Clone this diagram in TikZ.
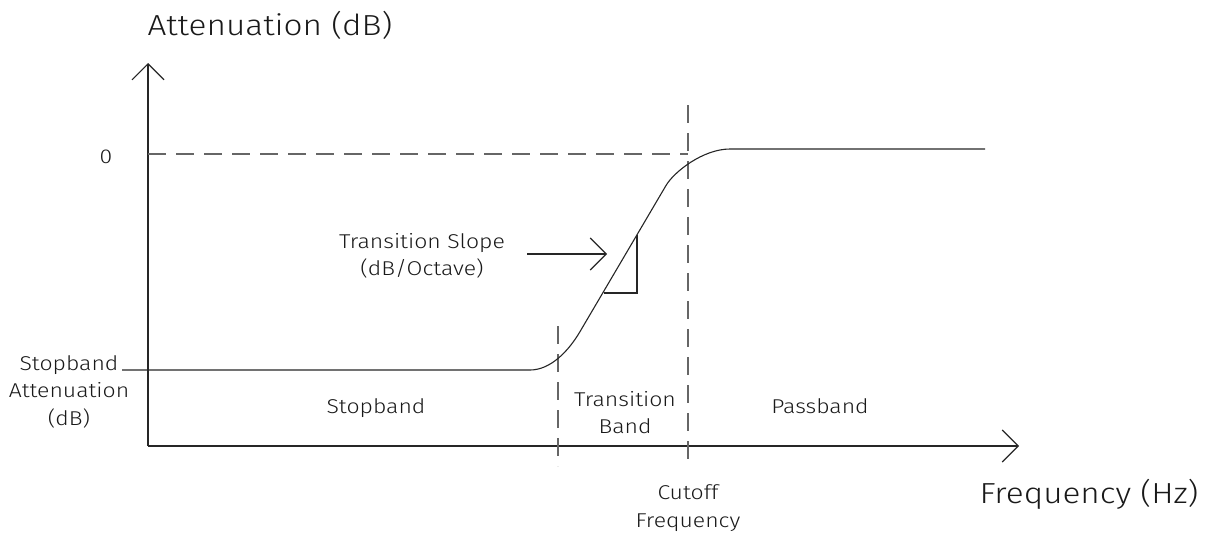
\documentclass[tikz,border=0pt]{standalone}
\usepackage{fontspec}
\setmainfont{Fira Sans}[UprightFont={* Light}, FakeStretch=1.15]
\usetikzlibrary{arrows.meta}

\begin{document}
\begin{tikzpicture}[x=1pt, y=-1pt,
  axis/.style={line width=1.1pt, black!85},
  guide/.style={line width=1.2pt, black!60, dash pattern=on 18pt off 10pt},
  response/.style={line width=1.1pt, black!85},
  barb/.style={-{Straight Barb[length=16pt, width=32pt]}},
  lbl/.style={font=\fontsize{20}{27.5}\selectfont, inner sep=0pt, align=center, text=black!90},
  ttl/.style={font=\fontsize{29}{34}\selectfont, inner sep=0pt, text=black!90}]
\useasboundingbox (0,0) rectangle (1212,533);

% axes
\coordinate (O) at (148,446);
\coordinate (ytip) at (148,63);
\coordinate (xtip) at (1019,446);
\draw[axis, barb] (O) -- (ytip);
\draw[axis, barb] (O) -- (xtip);

% reference lines: 0 dB level, transition start, cutoff
\coordinate (zl) at (148,154);
\coordinate (zr) at (688,154);
\coordinate (cutT) at (688,105);
\coordinate (cutB) at (688,466);
\coordinate (trT) at (558,326);
\coordinate (trB) at (558,466);
\draw[guide] (zl) -- (zr);
\draw[guide] (cutT) -- (cutB);
\draw[guide] (trT) -- (trB);

% filter response
\coordinate (stopL) at (122,370);
\coordinate (passR) at (985,149);
\draw[response] (stopL) -- (530,370)
  .. controls (550,370) and (568,352) .. (580,331.6)
  -- (666,185.5)
  .. controls (674,171.9) and (703,149) .. (730,149)
  -- (passR);

% slope triangle
\coordinate (triA) at (637,235);
\coordinate (triB) at (637,293);
\coordinate (triC) at (604,293);
\draw[response] (triA) -- (triB) -- (triC);

% slope pointer
\coordinate (slA) at (527,254);
\coordinate (slB) at (607,254);
\draw[response, barb] (slA) -- (slB);

% labels
\node[ttl, anchor=base] (ylab) at (270,35) {Attenuation (dB)};
\node[ttl, anchor=base] (xlab) at (1089,503) {Frequency (Hz)};
\node[lbl, anchor=base] (zero) at (106,163) {0};
\node[lbl] (sba) at (69,391.5) {Stopband\\Attenuation\\(dB)};
\node[lbl, anchor=base] (sb) at (376,413) {Stopband};
\node[lbl] (tb) at (625,412.5) {Transition\\Band};
\node[lbl, anchor=base] (pb) at (820,413) {Passband};
\node[lbl] (co) at (688,508) {Cutoff\\Frequency};
\node[lbl] (ts) at (422,256) {Transition Slope\\(dB/Octave)};
\end{tikzpicture}
\end{document}
